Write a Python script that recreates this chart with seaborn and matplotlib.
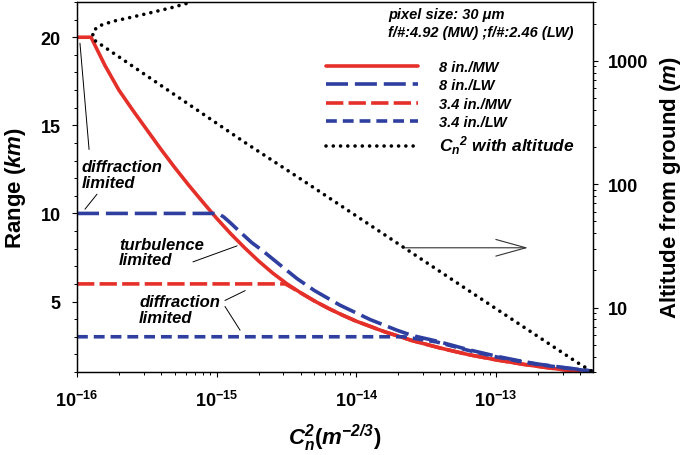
import numpy as np
import pandas as pd
import matplotlib
matplotlib.use("Agg")
import matplotlib.pyplot as plt
import seaborn as sns
from matplotlib.ticker import LogLocator, NullFormatter, MultipleLocator

# ---------------- data ----------------
cn2_8mw = [1.0e-16, 1.26e-16, 1.413e-16, 1.585e-16, 1.778e-16, 1.995e-16, 2.512e-16, 3.162e-16,
           3.981e-16, 5.012e-16, 6.310e-16, 7.943e-16, 1.0e-15, 1.259e-15, 1.585e-15, 1.995e-15,
           2.512e-15, 3.162e-15, 3.981e-15, 5.012e-15, 6.310e-15, 7.943e-15, 1.0e-14, 1.585e-14,
           2.512e-14, 3.981e-14, 6.310e-14, 1.0e-13, 1.585e-13, 2.512e-13, 3.981e-13]
range_8mw = [20, 20, 19.2, 18.4, 17.7, 17.0, 15.85, 14.75,
             13.65, 12.6, 11.6, 10.65, 9.72, 8.85, 8.05, 7.3,
             6.62, 6.02, 5.5, 5.03, 4.61, 4.23, 3.88, 3.29,
             2.78, 2.36, 1.99, 1.69, 1.43, 1.21, 1.02]

cn2_8lw = [1.0e-16, 1.023e-15, 1.122e-15, 1.259e-15, 1.469e-15, 1.778e-15, 2.143e-15, 2.818e-15,
           3.758e-15, 5.012e-15, 7.638e-15, 1.259e-14, 1.954e-14, 2.512e-14, 3.776e-14, 6.310e-14,
           1.0e-13, 1.413e-13, 1.995e-13, 3.162e-13, 4.943e-13]
range_8lw = [10, 10, 9.8, 9.45, 8.95, 8.35, 7.87, 7.1,
             6.3, 5.62, 4.79, 3.97, 3.37, 3.07, 2.75, 2.27,
             1.9, 1.66, 1.45, 1.24, 1.05]

cn2_34mw = [1.0e-16, 3.1e-15, 3.981e-15, 5.012e-15, 6.310e-15, 7.943e-15, 1.0e-14, 1.585e-14,
            2.512e-14, 3.981e-14, 6.310e-14, 1.0e-13, 1.585e-13, 2.512e-13, 3.981e-13]
range_34mw = [6, 6, 5.5, 5.03, 4.61, 4.23, 3.88, 3.29,
              2.78, 2.36, 1.99, 1.69, 1.43, 1.21, 1.02]

cn2_34lw = [1.0e-16, 2.19e-14, 3.776e-14, 6.310e-14, 1.0e-13, 1.413e-13, 1.995e-13, 3.162e-13,
            4.943e-13]
range_34lw = [3, 3, 2.7, 2.23, 1.86, 1.63, 1.43, 1.22, 1.04]

cn2_profile = [6.03e-16, 4.77e-16, 3.72e-16, 2.95e-16, 2.33e-16, 1.82e-16, 1.61e-16, 1.42e-16,
               1.288e-16, 1.32e-16, 1.6e-15, 4.15e-15, 6.5e-14, 3.8e-13, 4.94e-13]
alt_profile = [2910, 2702, 2525, 2370, 2228, 2096, 2005, 1911,
               1706, 1480, 217, 107, 13.5, 3.59, 3.0]

labels = ["8 in./MW", "8 in./LW", "3.4 in./MW", "3.4 in./LW"]
xticks = [1e-16, 1e-15, 1e-14, 1e-13]
xtick_labels = [r"$\mathbf{10^{-16}}$", r"$\mathbf{10^{-15}}$", r"$\mathbf{10^{-14}}$", r"$\mathbf{10^{-13}}$"]
yticks = [5, 10, 15, 20]
y2ticks = [10, 100, 1000]

# ---------------- style ----------------
sns.set_theme(style="ticks")
plt.rcParams["font.family"] = ["Liberation Sans", "DejaVu Sans"]
plt.rcParams["font.weight"] = "bold"
plt.rcParams["text.color"] = "black"
plt.rcParams["axes.labelcolor"] = "black"
plt.rcParams["xtick.color"] = "black"
plt.rcParams["ytick.color"] = "black"
plt.rcParams["mathtext.fontset"] = "custom"
plt.rcParams["mathtext.rm"] = "Liberation Sans"
plt.rcParams["mathtext.bf"] = "Liberation Sans:bold"
plt.rcParams["mathtext.it"] = "Liberation Sans:italic"
plt.rcParams["mathtext.bfit"] = "Liberation Sans:italic:bold"

RED = "#e5302a"
BLUE = "#2f3fa0"

fig = plt.figure(figsize=(6.83, 4.56), dpi=100)
ax = fig.add_axes([0.11274, 0.18202, 0.75549, 0.81140])
ax.set_xscale("log")
ax2 = ax.twinx()
ax2.set_yscale("log")

lw = 2.6
sns.lineplot(x=cn2_8mw, y=range_8mw, ax=ax, color=RED, lw=lw, label=labels[0],
             estimator=None, sort=False)
sns.lineplot(x=cn2_34mw, y=range_34mw, ax=ax, color=RED, lw=lw, label=labels[2],
             linestyle=(0, (4.8, 1.45)), estimator=None, sort=False)
sns.lineplot(x=cn2_8lw, y=range_8lw, ax=ax, color=BLUE, lw=lw, label=labels[1],
             linestyle=(0, (6.1, 1.9)), estimator=None, sort=False)
sns.lineplot(x=cn2_34lw, y=range_34lw, ax=ax, color=BLUE, lw=lw, label=labels[3],
             linestyle=(0, (3.0, 1.65)), estimator=None, sort=False)
sns.lineplot(x=cn2_profile, y=alt_profile, ax=ax2, color="black", lw=2.6,
             label=r"$\mathbfit{C_n}^{\mathbfit{2}}$ with altitude",
             linestyle=(0, (0.01, 2.0)), dash_capstyle="round",
             estimator=None, sort=False)

ax.set_xlim(1e-16, 4.94e-13)
ax.set_ylim(1, 22)
ax2.set_ylim(3, 3000)

# ticks
ax.set_xticks(xticks)
ax.set_xticklabels(xtick_labels)
ax.xaxis.set_minor_locator(LogLocator(base=10, subs=np.arange(2, 10)))
ax.xaxis.set_minor_formatter(NullFormatter())
ax.set_yticks(yticks)
ax.set_yticklabels([str(v) for v in yticks])
ax.yaxis.set_minor_locator(MultipleLocator(1))
ax2.set_yticks(y2ticks)
ax2.set_yticklabels([str(v) for v in y2ticks])
ax2.yaxis.set_minor_locator(LogLocator(base=10, subs=np.arange(2, 10)))
ax2.yaxis.set_minor_formatter(NullFormatter())

for a in (ax, ax2):
    a.tick_params(which="major", direction="out", length=3.6, width=0.8, color="black",
                  labelsize=13, labelcolor="black")
    a.tick_params(which="minor", direction="out", length=2.4, width=0.7, color="black")
    for s in a.spines.values():
        s.set_color("black")
        s.set_linewidth(0.9)
        s.set_visible(True)
ax.tick_params(axis="y", which="major", pad=8)
ax.tick_params(axis="x", which="major", pad=9)
ax2.tick_params(axis="y", which="major", pad=7)
for lab in ax.get_yticklabels() + ax2.get_yticklabels():
    lab.set_fontweight("bold")

# axis labels
ax.set_ylabel(r"Range ($\mathbfit{km}$)", fontsize=16, fontweight="bold", color="black")
ax.yaxis.set_label_coords(-0.095, 0.5)
ax2.set_ylabel(r"Altitude from ground ($\mathbfit{m}$)", fontsize=16, fontweight="bold",
               color="black")
ax2.yaxis.set_label_coords(1.125, 0.5)
ax.set_xlabel(r"$\mathbfit{C}_{\mathbfit{n}}^{\mathbfit{2}}\mathbf{(}\mathbfit{m}^{\mathbfit{-2/3}}\mathbf{)}$",
              fontsize=16, color="black")
ax.xaxis.set_label_coords(0.5, -0.135)

# legend
h1, l1 = ax.get_legend_handles_labels()
h2, l2 = ax2.get_legend_handles_labels()
hd = dict(zip(l1, h1))
handles = [hd[k] for k in labels] + h2
leg_labels = labels + l2
if ax2.get_legend() is not None:
    ax2.get_legend().remove()
leg = ax.legend(handles, leg_labels, loc="upper left", bbox_to_anchor=(0.482, 0.843),
                frameon=False, borderpad=0, borderaxespad=0, handlelength=6.3,
                handletextpad=1.5, labelspacing=0.3,
                prop=dict(family=["Liberation Sans"], weight="bold", style="italic", size=10.5))
for t in leg.get_texts():
    t.set_color("black")
leg.get_texts()[4].set_fontsize(12.5)
leg.set_zorder(5)

tk = dict(fontweight="bold", fontstyle="italic", color="black")
ax.text(0.603, 0.968, "pixel size: 30 \u03bcm", transform=ax.transAxes, fontsize=10.5,
        ha="left", va="center", **tk)
ax.text(0.603, 0.919, "f/#:4.92 (MW) ;f/#:2.46 (LW)", transform=ax.transAxes, fontsize=10.5,
        ha="left", va="center", **tk)

# annotations
ax.text(1.086e-16, 12.2, "diffraction\nlimited", fontsize=12, ha="left", va="center",
        linespacing=1.05, **tk)
ax.text(2.0e-16, 7.82, "turbulence\nlimited", fontsize=12, ha="left", va="center",
        linespacing=1.05, **tk)
ax.text(2.78e-16, 4.55, "diffraction\nlimited", fontsize=12, ha="left", va="center",
        linespacing=1.05, **tk)

lead = dict(arrowstyle="-", lw=0.7, color="black", shrinkA=0, shrinkB=0)
ax.annotate("", xy=(1.05e-16, 19.66), xytext=(1.22e-16, 13.63), arrowprops=lead)
ax.annotate("", xy=(1.14e-16, 10.24), xytext=(1.39e-16, 11.09), arrowprops=lead)
ax.annotate("", xy=(1.40e-15, 8.16), xytext=(6.76e-16, 7.25), arrowprops=lead)
ax.annotate("", xy=(1.60e-15, 5.62), xytext=(1.146e-15, 5.06), arrowprops=lead)
ax.annotate("", xy=(1.47e-15, 3.37), xytext=(1.146e-15, 4.72), arrowprops=lead)

ax.annotate("", xy=(1.69e-13, 8.05), xytext=(2.16e-14, 8.05),
            arrowprops=dict(arrowstyle="->,head_length=1.8,head_width=0.5", lw=0.8,
                            color="#333333", shrinkA=0, shrinkB=0))

fig.savefig("out.png", dpi=100)
